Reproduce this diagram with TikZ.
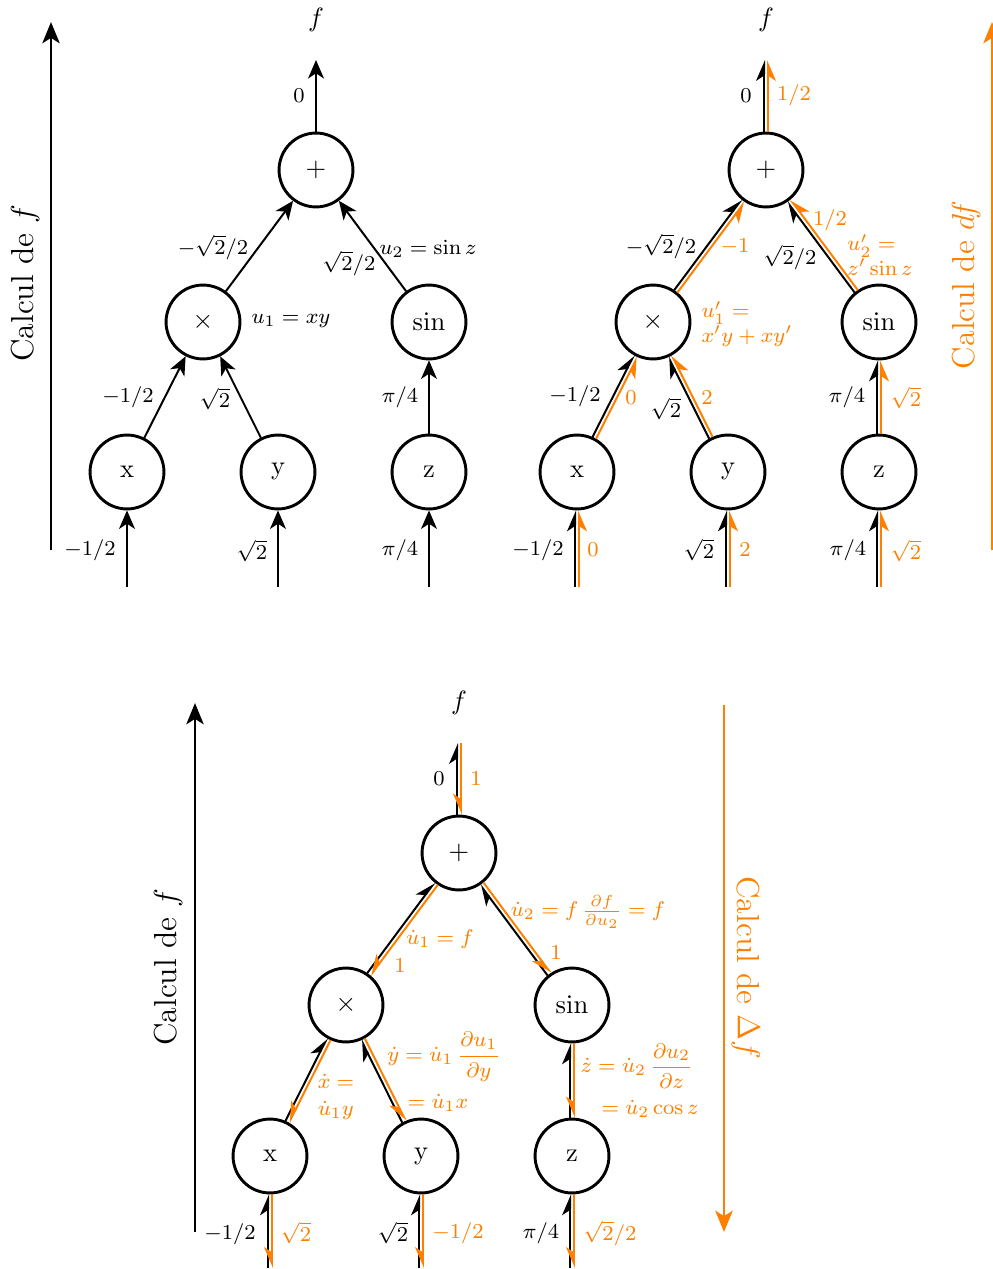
\documentclass[tikz,border=0pt]{standalone}
\usepackage{amsmath}
\usetikzlibrary{arrows.meta,calc}
\newcommand{\edgeR}{14.4pt}
\newcommand{\edgeOff}{0.75pt}
% paired edge, both drawn child -> parent
\newcommand{\edgeUp}[4]{%
  \path ($(#1)!\edgeR!(#2)$) coordinate (ps) ($(#2)!\edgeR!(#1)$) coordinate (pe);
  \draw[#3] ($(ps)!\edgeOff!90:(pe)$) -- ($(pe)!\edgeOff!-90:(ps)$);
  \draw[#4] ($(ps)!\edgeOff!-90:(pe)$) -- ($(pe)!\edgeOff!90:(ps)$);
}
% paired edge, black child -> parent, orange parent -> child
\newcommand{\edgeBack}[4]{%
  \path ($(#1)!\edgeR!(#2)$) coordinate (ps) ($(#2)!\edgeR!(#1)$) coordinate (pe);
  \draw[#3] ($(ps)!\edgeOff!90:(pe)$) -- ($(pe)!\edgeOff!-90:(ps)$);
  \draw[#4] ($(pe)!\edgeOff!90:(ps)$) -- ($(ps)!\edgeOff!-90:(pe)$);
}
\begin{document}
\begin{tikzpicture}[x=0.013263cm,y=-0.013263cm,
  nd/.style={circle,draw,line width=1.1pt,minimum size=0.98cm,inner sep=0pt,font=\normalsize},
  lab/.style={font=\fontsize{8.5}{9.2}\selectfont,inner sep=0pt},
  olab/.style={lab,text=orange},
  blk/.style={line width=0.75pt,draw=black},
  org/.style={line width=0.75pt,draw=orange},
  full/.style={-{Stealth[length=7pt,width=6pt,inset=2pt]}},
  hl/.style={-{Stealth[length=7pt,width=6pt,inset=2pt,left]}},
  hr/.style={-{Stealth[length=7pt,width=6pt,inset=2pt,right]}},
  big/.style={line width=1.1pt,-{Stealth[length=8pt,width=6.5pt,inset=2pt]}},
  side/.style={font=\large,inner sep=0pt},
]
\useasboundingbox (0,0) rectangle (992,1269);

%================ TOP LEFT =================
\node[nd] (p1) at (316,170) {$+$};
\node[nd] (m1) at (203,322) {$\times$};
\node[nd] (s1) at (429,322) {$\sin$};
\node[nd] (x1) at (127,472) {x};
\node[nd] (y1) at (278,472) {y};
\node[nd] (z1) at (429,472) {z};
\node (f1) at (316,20) {$f$};
\coordinate (o1) at (316,60);
\coordinate (ix1) at (127,587);
\coordinate (iy1) at (278,587);
\coordinate (iz1) at (429,587);
\draw[blk,full] (p1) -- (o1);
\draw[blk,full] (m1) -- (p1);
\draw[blk,full] (s1) -- (p1);
\draw[blk,full] (x1) -- (m1);
\draw[blk,full] (y1) -- (m1);
\draw[blk,full] (z1) -- (s1);
\draw[blk,full] (ix1) -- (x1);
\draw[blk,full] (iy1) -- (y1);
\draw[blk,full] (iz1) -- (z1);
\node[lab] (a1) at (299,96) {$0$};
\node[lab] (a2) at (213,247) {$-\sqrt{2}/2$};
\node[lab] (a3) at (349,263) {$\sqrt{2}/2$};
\node[lab] (a4) at (428,249) {$u_2=\sin z$};
\node[lab] (a5) at (291,321) {$u_1=xy$};
\node[lab] (a6) at (128,397) {$-1/2$};
\node[lab] (a7) at (215,399) {$\sqrt{2}$};
\node[lab] (a8) at (400,397) {$\pi/4$};
\node[lab] (a9) at (90,550) {$-1/2$};
\node[lab] (a10) at (252,551) {$\sqrt{2}$};
\node[lab] (a11) at (400,550) {$\pi/4$};
\coordinate (L1s) at (51,550);
\coordinate (L1e) at (51,22);
\draw[big] (L1s) -- (L1e);
\node[side,rotate=90] (c1) at (25,283) {Calcul de $f$};

%================ TOP RIGHT =================
\node[nd] (p2) at (766,170) {$+$};
\node[nd] (m2) at (653,322) {$\times$};
\node[nd] (s2) at (879,322) {$\sin$};
\node[nd] (x2) at (577,472) {x};
\node[nd] (y2) at (728,472) {y};
\node[nd] (z2) at (879,472) {z};
\node (f2) at (766,20) {$f$};
\coordinate (o2) at (766,60);
\coordinate (ix2) at (577,587);
\coordinate (iy2) at (728,587);
\coordinate (iz2) at (879,587);
\draw[blk,hl] ([xshift=-\edgeOff]p2.north) -- ([xshift=-\edgeOff]o2);
\draw[org,hr] ([xshift=\edgeOff]p2.north) -- ([xshift=\edgeOff]o2);
\edgeUp{m2}{p2}{blk,hl}{org,hr}
\edgeUp{s2}{p2}{blk,hl}{org,hr}
\edgeUp{x2}{m2}{blk,hl}{org,hr}
\edgeUp{y2}{m2}{blk,hl}{org,hr}
\draw[blk,hl] ([xshift=-\edgeOff]z2.north) -- ([xshift=-\edgeOff]s2.south);
\draw[org,hr] ([xshift=\edgeOff]z2.north) -- ([xshift=\edgeOff]s2.south);
\draw[blk,hl] ([xshift=-\edgeOff]ix2) -- ([xshift=-\edgeOff]x2.south);
\draw[org,hr] ([xshift=\edgeOff]ix2) -- ([xshift=\edgeOff]x2.south);
\draw[blk,hl] ([xshift=-\edgeOff]iy2) -- ([xshift=-\edgeOff]y2.south);
\draw[org,hr] ([xshift=\edgeOff]iy2) -- ([xshift=\edgeOff]y2.south);
\draw[blk,hl] ([xshift=-\edgeOff]iz2) -- ([xshift=-\edgeOff]z2.south);
\draw[org,hr] ([xshift=\edgeOff]iz2) -- ([xshift=\edgeOff]z2.south);
\node[lab] (b1) at (746,96) {$0$};
\node[olab] (b2) at (794,95) {$1/2$};
\node[lab] (b3) at (661,246) {$-\sqrt{2}/2$};
\node[olab] (b4) at (735,247) {$-1$};
\node[lab] (b5) at (790,257) {$\sqrt{2}/2$};
\node[olab] (b6) at (830,220) {$1/2$};
\node[olab,align=left] (b7) at (880,255) {$u_2'=$\\$z'\sin z$};
\node[olab,align=left] (b8) at (747,324) {$u_1'=$\\$x'y+xy'$};
\node[lab] (b9) at (575,396) {$-1/2$};
\node[olab] (b10) at (631,398) {$0$};
\node[lab] (b11) at (666,409) {$\sqrt{2}$};
\node[olab] (b12) at (707,398) {$2$};
\node[lab] (b13) at (847,397) {$\pi/4$};
\node[olab] (b14) at (906,398) {$\sqrt{2}$};
\node[lab] (b15) at (538,550) {$-1/2$};
\node[olab] (b16) at (593,550) {$0$};
\node[lab] (b17) at (699,550) {$\sqrt{2}$};
\node[olab] (b18) at (745,550) {$2$};
\node[lab] (b19) at (848,550) {$\pi/4$};
\node[olab] (b20) at (906,551) {$\sqrt{2}$};
\coordinate (R1s) at (992,550);
\coordinate (R1e) at (992,22);
\draw[big,draw=orange,fill=orange] (R1s) -- (R1e);
\node[side,rotate=90,text=orange] (c2) at (966,285) {Calcul de $df$};

%================ BOTTOM =================
\node[nd] (p3) at (459,853) {$+$};
\node[nd] (m3) at (346,1005) {$\times$};
\node[nd] (s3) at (572,1005) {$\sin$};
\node[nd] (x3) at (270,1156) {x};
\node[nd] (y3) at (421,1156) {y};
\node[nd] (z3) at (572,1156) {z};
\node (f3) at (459,703) {$f$};
\coordinate (o3) at (459,743);
\coordinate (ix3) at (270,1268);
\coordinate (iy3) at (421,1268);
\coordinate (iz3) at (572,1268);
\draw[blk,hl] ([xshift=-\edgeOff]p3.north) -- ([xshift=-\edgeOff]o3);
\draw[org,hr] ([xshift=\edgeOff]o3) -- ([xshift=\edgeOff]p3.north);
\edgeBack{m3}{p3}{blk,hl}{org,hr}
\edgeBack{s3}{p3}{blk,hl}{org,hr}
\edgeBack{x3}{m3}{blk,hl}{org,hr}
\edgeBack{y3}{m3}{blk,hl}{org,hr}
\draw[blk,hl] ([xshift=-\edgeOff]z3.north) -- ([xshift=-\edgeOff]s3.south);
\draw[org,hr] ([xshift=\edgeOff]s3.south) -- ([xshift=\edgeOff]z3.north);
\draw[blk,hl] ([xshift=-\edgeOff]ix3) -- ([xshift=-\edgeOff]x3.south);
\draw[org,hr] ([xshift=\edgeOff]x3.south) -- ([xshift=\edgeOff]ix3);
\draw[blk,hl] ([xshift=-\edgeOff]iy3) -- ([xshift=-\edgeOff]y3.south);
\draw[org,hr] ([xshift=\edgeOff]y3.south) -- ([xshift=\edgeOff]iy3);
\draw[blk,hl] ([xshift=-\edgeOff]iz3) -- ([xshift=-\edgeOff]z3.south);
\draw[org,hr] ([xshift=\edgeOff]z3.south) -- ([xshift=\edgeOff]iz3);
\node[lab] (d1) at (439,779) {$0$};
\node[olab] (d2) at (476,779) {$1$};
\node[olab] (d3) at (440,939) {$\dot u_1=f$};
\node[olab] (d4) at (400,966) {$1$};
\node[olab] (d5) at (588,912) {$\dot u_2=f\,\frac{\partial f}{\partial u_2}=f$};
\node[olab] (d6) at (556,953) {$1$};
\node[olab,align=left] (d7) at (336,1097) {$\dot x=$\\[1pt]$\dot u_1 y$};
\node[olab] (d8) at (444,1057) {$\dot y=\dot u_1\,\dfrac{\partial u_1}{\partial y}$};
\node[olab] (d9) at (438,1103) {$=\dot u_1 x$};
\node[olab] (d10) at (637,1066) {$\dot z=\dot u_2\,\dfrac{\partial u_2}{\partial z}$};
\node[olab] (d11) at (650,1109) {$=\dot u_2\cos z$};
\node[lab] (d12) at (230,1234) {$-1/2$};
\node[olab] (d13) at (296,1233) {$\sqrt{2}$};
\node[lab] (d14) at (393,1233) {$\sqrt{2}$};
\node[olab] (d15) at (458,1233) {$-1/2$};
\node[lab] (d16) at (541,1233) {$\pi/4$};
\node[olab] (d17) at (610,1233) {$\sqrt{2}/2$};
\coordinate (L3s) at (195,1232);
\coordinate (L3e) at (195,703);
\draw[big] (L3s) -- (L3e);
\node[side,rotate=90] (c3) at (168,967) {Calcul de $f$};
\coordinate (R3s) at (724,705);
\coordinate (R3e) at (724,1232);
\draw[big,draw=orange,fill=orange] (R3s) -- (R3e);
\node[side,rotate=-90,text=orange] (c4) at (746,968) {Calcul de $\Delta f$};
\end{tikzpicture}
\end{document}
